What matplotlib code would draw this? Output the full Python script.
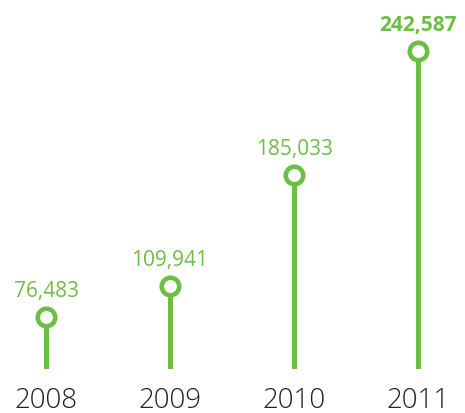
import numpy as np
import matplotlib.pyplot as plt

years = ['2008', '2009', '2010', '2011']
values = [76483, 109941, 185033, 242587]
labels = ['76,483', '109,941', '185,033', '242,587']

green = '#6cbf45'
plt.rcParams['font.family'] = ['Open Sans', 'DejaVu Sans']

# the original spaces the stems roughly by the square of the value
def fwd(v):
    v = np.asarray(v, dtype=float)
    return np.sign(v) * v ** 2

def inv(t):
    t = np.asarray(t, dtype=float)
    return np.sign(t) * np.sqrt(np.abs(t))

fig = plt.figure(figsize=(4.65, 4.14), dpi=100)
ax = fig.add_axes([0, 44 / 414, 1, 370 / 414])
ax.set_yscale('function', functions=(fwd, inv))
ax.set_xlim(-46 / 124, (465 - 46) / 124)
ax.set_ylim(-67100, 263100)

x = np.arange(len(years))
bottom = ax.get_ylim()[0]
ax.vlines(x, bottom, values, color=green, lw=3.6, zorder=2)
ax.plot(x, values, 'o', ms=12.6, mfc='white', mec=green, mew=3.3, zorder=3)

for i, (v, lab) in enumerate(zip(values, labels)):
    bold = i == len(values) - 1
    ax.annotate(lab, (i, v), xytext=(0, 15), textcoords='offset points',
                ha='center', va='baseline', color=green, fontsize=15,
                fontweight='bold' if bold else 'normal')

ax.set_xticks(x)
ax.set_xticklabels(years, fontsize=20, color='#222222', fontweight='light')
ax.tick_params(axis='x', length=0, pad=12)
ax.set_yticks([])
for s in ax.spines.values():
    s.set_visible(False)

fig.savefig('out.png', dpi=100)
